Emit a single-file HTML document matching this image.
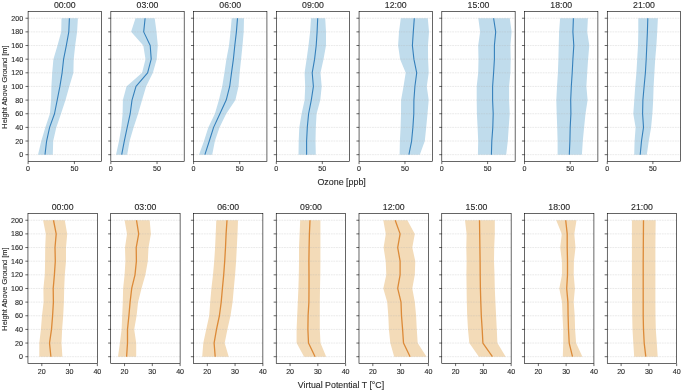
<!DOCTYPE html><html><head><meta charset="utf-8"><style>
html,body{margin:0;padding:0;background:#fff;}
svg{display:block;will-change:transform;filter:blur(0.3px);font-family:"Liberation Sans",sans-serif;}
.grid{stroke:#b0b0b0;stroke-width:0.7;stroke-dasharray:1.8 0.8;stroke-opacity:0.38;}
.sp{fill:none;stroke:#000;stroke-width:0.6;}
.tk{stroke:#000;stroke-width:0.6;}
.ml{stroke-linejoin:round;}
.tl{font-size:7.1px;fill:#2a2a2a;stroke:#2a2a2a;stroke-width:0.12px;}
.tt{font-size:8.4px;fill:#2a2a2a;stroke:#2a2a2a;stroke-width:0.12px;}
.yl{font-size:7px;fill:#2a2a2a;stroke:#2a2a2a;stroke-width:0.1px;}
.xl{font-size:8.4px;fill:#2a2a2a;stroke:#2a2a2a;stroke-width:0.12px;}
</style></head><body><svg width="685" height="392" viewBox="0 0 685 392">
<rect width="685" height="392" fill="#fff"/>
<g><polygon points="38,154.68 41.3,141.03 45.3,127.39 49.9,113.74 51.1,100.1 51.4,86.45 52.2,72.81 53.4,59.16 57.5,45.52 61.2,31.87 61.5,18.23 77.9,18.23 77.1,31.87 75.2,45.52 73.7,59.16 73.4,72.81 69.3,86.45 65.5,100.1 61,113.74 56.3,127.39 53.2,141.03 52.8,154.68" fill="#c0dcec" fill-opacity="1"/><line x1="28.1" x2="101.45" y1="154.68" y2="154.68" class="grid"/><line x1="28.1" x2="101.45" y1="141.03" y2="141.03" class="grid"/><line x1="28.1" x2="101.45" y1="127.39" y2="127.39" class="grid"/><line x1="28.1" x2="101.45" y1="113.74" y2="113.74" class="grid"/><line x1="28.1" x2="101.45" y1="100.1" y2="100.1" class="grid"/><line x1="28.1" x2="101.45" y1="86.45" y2="86.45" class="grid"/><line x1="28.1" x2="101.45" y1="72.81" y2="72.81" class="grid"/><line x1="28.1" x2="101.45" y1="59.16" y2="59.16" class="grid"/><line x1="28.1" x2="101.45" y1="45.52" y2="45.52" class="grid"/><line x1="28.1" x2="101.45" y1="31.87" y2="31.87" class="grid"/><line x1="28.1" x2="101.45" y1="18.23" y2="18.23" class="grid"/><polyline points="45,154.68 46.6,141.03 49.6,127.39 54.5,113.74 57.2,100.1 59.9,86.45 62.1,72.81 63.6,59.16 66.3,45.52 68.8,31.87 69.4,18.23" fill="none" stroke="#3580bb" stroke-width="1.1" class="ml"/><rect x="28.1" y="11.4" width="73.35" height="150.1" class="sp"/><line x1="25.5" x2="28.1" y1="154.68" y2="154.68" class="tk"/><text x="23.1" y="157.18" class="tl" text-anchor="end">0</text><line x1="25.5" x2="28.1" y1="141.03" y2="141.03" class="tk"/><text x="23.1" y="143.53" class="tl" text-anchor="end">20</text><line x1="25.5" x2="28.1" y1="127.39" y2="127.39" class="tk"/><text x="23.1" y="129.89" class="tl" text-anchor="end">40</text><line x1="25.5" x2="28.1" y1="113.74" y2="113.74" class="tk"/><text x="23.1" y="116.24" class="tl" text-anchor="end">60</text><line x1="25.5" x2="28.1" y1="100.1" y2="100.1" class="tk"/><text x="23.1" y="102.6" class="tl" text-anchor="end">80</text><line x1="25.5" x2="28.1" y1="86.45" y2="86.45" class="tk"/><text x="23.1" y="88.95" class="tl" text-anchor="end">100</text><line x1="25.5" x2="28.1" y1="72.81" y2="72.81" class="tk"/><text x="23.1" y="75.31" class="tl" text-anchor="end">120</text><line x1="25.5" x2="28.1" y1="59.16" y2="59.16" class="tk"/><text x="23.1" y="61.66" class="tl" text-anchor="end">140</text><line x1="25.5" x2="28.1" y1="45.52" y2="45.52" class="tk"/><text x="23.1" y="48.02" class="tl" text-anchor="end">160</text><line x1="25.5" x2="28.1" y1="31.87" y2="31.87" class="tk"/><text x="23.1" y="34.37" class="tl" text-anchor="end">180</text><line x1="25.5" x2="28.1" y1="18.23" y2="18.23" class="tk"/><text x="23.1" y="20.73" class="tl" text-anchor="end">200</text><line x1="28.1" x2="28.1" y1="161.5" y2="164.1" class="tk"/><text x="28.1" y="171" class="tl" text-anchor="middle">0</text><line x1="74.4" x2="74.4" y1="161.5" y2="164.1" class="tk"/><text x="74.4" y="171" class="tl" text-anchor="middle">50</text><text transform="translate(64.77,7.6) scale(1.04,1)" class="tt" text-anchor="middle">00:00</text></g>
<g><polygon points="116,154.68 119,141.03 121.3,127.39 122.6,113.74 122.9,100.1 126.5,86.45 142.1,72.81 145.5,59.16 143.3,45.52 131.1,31.87 135.5,18.23 154.7,18.23 156.5,31.87 157.8,45.52 156.7,59.16 152.9,72.81 146.1,86.45 142.1,100.1 138.1,113.74 133.6,127.39 129.6,141.03 127.2,154.68" fill="#c0dcec" fill-opacity="1"/><line x1="110.84" x2="184.19" y1="154.68" y2="154.68" class="grid"/><line x1="110.84" x2="184.19" y1="141.03" y2="141.03" class="grid"/><line x1="110.84" x2="184.19" y1="127.39" y2="127.39" class="grid"/><line x1="110.84" x2="184.19" y1="113.74" y2="113.74" class="grid"/><line x1="110.84" x2="184.19" y1="100.1" y2="100.1" class="grid"/><line x1="110.84" x2="184.19" y1="86.45" y2="86.45" class="grid"/><line x1="110.84" x2="184.19" y1="72.81" y2="72.81" class="grid"/><line x1="110.84" x2="184.19" y1="59.16" y2="59.16" class="grid"/><line x1="110.84" x2="184.19" y1="45.52" y2="45.52" class="grid"/><line x1="110.84" x2="184.19" y1="31.87" y2="31.87" class="grid"/><line x1="110.84" x2="184.19" y1="18.23" y2="18.23" class="grid"/><polyline points="121.7,154.68 124.3,141.03 127.2,127.39 130.2,113.74 132,100.1 136,86.45 147.6,72.81 151.2,59.16 150.2,45.52 143.7,31.87 145.1,18.23" fill="none" stroke="#3580bb" stroke-width="1.1" class="ml"/><rect x="110.84" y="11.4" width="73.35" height="150.1" class="sp"/><line x1="108.24" x2="110.84" y1="154.68" y2="154.68" class="tk"/><line x1="108.24" x2="110.84" y1="141.03" y2="141.03" class="tk"/><line x1="108.24" x2="110.84" y1="127.39" y2="127.39" class="tk"/><line x1="108.24" x2="110.84" y1="113.74" y2="113.74" class="tk"/><line x1="108.24" x2="110.84" y1="100.1" y2="100.1" class="tk"/><line x1="108.24" x2="110.84" y1="86.45" y2="86.45" class="tk"/><line x1="108.24" x2="110.84" y1="72.81" y2="72.81" class="tk"/><line x1="108.24" x2="110.84" y1="59.16" y2="59.16" class="tk"/><line x1="108.24" x2="110.84" y1="45.52" y2="45.52" class="tk"/><line x1="108.24" x2="110.84" y1="31.87" y2="31.87" class="tk"/><line x1="108.24" x2="110.84" y1="18.23" y2="18.23" class="tk"/><line x1="110.84" x2="110.84" y1="161.5" y2="164.1" class="tk"/><text x="110.84" y="171" class="tl" text-anchor="middle">0</text><line x1="157.04" x2="157.04" y1="161.5" y2="164.1" class="tk"/><text x="157.04" y="171" class="tl" text-anchor="middle">50</text><text transform="translate(147.51,7.6) scale(1.04,1)" class="tt" text-anchor="middle">03:00</text></g>
<g><polygon points="199,154.68 204,141.03 208.3,127.39 214.9,113.74 218.9,100.1 222.2,86.45 224.4,72.81 226.4,59.16 229,45.52 230.5,31.87 231.7,18.23 244,18.23 243.7,31.87 242.5,45.52 241.1,59.16 239.7,72.81 238.5,86.45 235.4,100.1 226.2,113.74 219.5,127.39 214.9,141.03 212.2,154.68" fill="#c0dcec" fill-opacity="1"/><line x1="193.58" x2="266.93" y1="154.68" y2="154.68" class="grid"/><line x1="193.58" x2="266.93" y1="141.03" y2="141.03" class="grid"/><line x1="193.58" x2="266.93" y1="127.39" y2="127.39" class="grid"/><line x1="193.58" x2="266.93" y1="113.74" y2="113.74" class="grid"/><line x1="193.58" x2="266.93" y1="100.1" y2="100.1" class="grid"/><line x1="193.58" x2="266.93" y1="86.45" y2="86.45" class="grid"/><line x1="193.58" x2="266.93" y1="72.81" y2="72.81" class="grid"/><line x1="193.58" x2="266.93" y1="59.16" y2="59.16" class="grid"/><line x1="193.58" x2="266.93" y1="45.52" y2="45.52" class="grid"/><line x1="193.58" x2="266.93" y1="31.87" y2="31.87" class="grid"/><line x1="193.58" x2="266.93" y1="18.23" y2="18.23" class="grid"/><polyline points="204.9,154.68 209.3,141.03 213.6,127.39 219.9,113.74 226.2,100.1 229.7,86.45 231.5,72.81 233.4,59.16 234.8,45.52 236.4,31.87 237.5,18.23" fill="none" stroke="#3580bb" stroke-width="1.1" class="ml"/><rect x="193.58" y="11.4" width="73.35" height="150.1" class="sp"/><line x1="190.98" x2="193.58" y1="154.68" y2="154.68" class="tk"/><line x1="190.98" x2="193.58" y1="141.03" y2="141.03" class="tk"/><line x1="190.98" x2="193.58" y1="127.39" y2="127.39" class="tk"/><line x1="190.98" x2="193.58" y1="113.74" y2="113.74" class="tk"/><line x1="190.98" x2="193.58" y1="100.1" y2="100.1" class="tk"/><line x1="190.98" x2="193.58" y1="86.45" y2="86.45" class="tk"/><line x1="190.98" x2="193.58" y1="72.81" y2="72.81" class="tk"/><line x1="190.98" x2="193.58" y1="59.16" y2="59.16" class="tk"/><line x1="190.98" x2="193.58" y1="45.52" y2="45.52" class="tk"/><line x1="190.98" x2="193.58" y1="31.87" y2="31.87" class="tk"/><line x1="190.98" x2="193.58" y1="18.23" y2="18.23" class="tk"/><line x1="193.58" x2="193.58" y1="161.5" y2="164.1" class="tk"/><text x="193.58" y="171" class="tl" text-anchor="middle">0</text><line x1="239.68" x2="239.68" y1="161.5" y2="164.1" class="tk"/><text x="239.68" y="171" class="tl" text-anchor="middle">50</text><text transform="translate(230.25,7.6) scale(1.04,1)" class="tt" text-anchor="middle">06:00</text></g>
<g><polygon points="298.5,154.68 298.7,141.03 299.3,127.39 301.6,113.74 304.6,100.1 305.2,86.45 304.6,72.81 306.6,59.16 308.5,45.52 310.1,31.87 311,18.23 325.2,18.23 326,31.87 326,45.52 323.5,59.16 320.5,72.81 321.7,86.45 320.3,100.1 316.6,113.74 315.8,127.39 315.5,141.03 315.8,154.68" fill="#c0dcec" fill-opacity="1"/><line x1="276.32" x2="349.67" y1="154.68" y2="154.68" class="grid"/><line x1="276.32" x2="349.67" y1="141.03" y2="141.03" class="grid"/><line x1="276.32" x2="349.67" y1="127.39" y2="127.39" class="grid"/><line x1="276.32" x2="349.67" y1="113.74" y2="113.74" class="grid"/><line x1="276.32" x2="349.67" y1="100.1" y2="100.1" class="grid"/><line x1="276.32" x2="349.67" y1="86.45" y2="86.45" class="grid"/><line x1="276.32" x2="349.67" y1="72.81" y2="72.81" class="grid"/><line x1="276.32" x2="349.67" y1="59.16" y2="59.16" class="grid"/><line x1="276.32" x2="349.67" y1="45.52" y2="45.52" class="grid"/><line x1="276.32" x2="349.67" y1="31.87" y2="31.87" class="grid"/><line x1="276.32" x2="349.67" y1="18.23" y2="18.23" class="grid"/><polyline points="306.6,154.68 306.6,141.03 307.3,127.39 308.6,113.74 311.3,100.1 313.4,86.45 312.2,72.81 314.6,59.16 316.2,45.52 317.1,31.87 317.7,18.23" fill="none" stroke="#3580bb" stroke-width="1.1" class="ml"/><rect x="276.32" y="11.4" width="73.35" height="150.1" class="sp"/><line x1="273.72" x2="276.32" y1="154.68" y2="154.68" class="tk"/><line x1="273.72" x2="276.32" y1="141.03" y2="141.03" class="tk"/><line x1="273.72" x2="276.32" y1="127.39" y2="127.39" class="tk"/><line x1="273.72" x2="276.32" y1="113.74" y2="113.74" class="tk"/><line x1="273.72" x2="276.32" y1="100.1" y2="100.1" class="tk"/><line x1="273.72" x2="276.32" y1="86.45" y2="86.45" class="tk"/><line x1="273.72" x2="276.32" y1="72.81" y2="72.81" class="tk"/><line x1="273.72" x2="276.32" y1="59.16" y2="59.16" class="tk"/><line x1="273.72" x2="276.32" y1="45.52" y2="45.52" class="tk"/><line x1="273.72" x2="276.32" y1="31.87" y2="31.87" class="tk"/><line x1="273.72" x2="276.32" y1="18.23" y2="18.23" class="tk"/><line x1="276.32" x2="276.32" y1="161.5" y2="164.1" class="tk"/><text x="276.32" y="171" class="tl" text-anchor="middle">0</text><line x1="322.32" x2="322.32" y1="161.5" y2="164.1" class="tk"/><text x="322.32" y="171" class="tl" text-anchor="middle">50</text><text transform="translate(313,7.6) scale(1.04,1)" class="tt" text-anchor="middle">09:00</text></g>
<g><polygon points="399.6,154.68 399.9,141.03 400.6,127.39 401,113.74 401.1,100.1 403.5,86.45 405.7,72.81 400.1,59.16 398.1,45.52 399,31.87 400.8,18.23 427.8,18.23 429,31.87 428,45.52 428.1,59.16 428.7,72.81 426.8,86.45 428.7,100.1 427.5,113.74 426.2,127.39 424.8,141.03 419.8,154.68" fill="#c0dcec" fill-opacity="1"/><line x1="359.06" x2="432.41" y1="154.68" y2="154.68" class="grid"/><line x1="359.06" x2="432.41" y1="141.03" y2="141.03" class="grid"/><line x1="359.06" x2="432.41" y1="127.39" y2="127.39" class="grid"/><line x1="359.06" x2="432.41" y1="113.74" y2="113.74" class="grid"/><line x1="359.06" x2="432.41" y1="100.1" y2="100.1" class="grid"/><line x1="359.06" x2="432.41" y1="86.45" y2="86.45" class="grid"/><line x1="359.06" x2="432.41" y1="72.81" y2="72.81" class="grid"/><line x1="359.06" x2="432.41" y1="59.16" y2="59.16" class="grid"/><line x1="359.06" x2="432.41" y1="45.52" y2="45.52" class="grid"/><line x1="359.06" x2="432.41" y1="31.87" y2="31.87" class="grid"/><line x1="359.06" x2="432.41" y1="18.23" y2="18.23" class="grid"/><polyline points="408.9,154.68 411.6,141.03 412.9,127.39 413.8,113.74 413.9,100.1 414.9,86.45 416.7,72.81 413.9,59.16 412.4,45.52 413.3,31.87 414.3,18.23" fill="none" stroke="#3580bb" stroke-width="1.1" class="ml"/><rect x="359.06" y="11.4" width="73.35" height="150.1" class="sp"/><line x1="356.46" x2="359.06" y1="154.68" y2="154.68" class="tk"/><line x1="356.46" x2="359.06" y1="141.03" y2="141.03" class="tk"/><line x1="356.46" x2="359.06" y1="127.39" y2="127.39" class="tk"/><line x1="356.46" x2="359.06" y1="113.74" y2="113.74" class="tk"/><line x1="356.46" x2="359.06" y1="100.1" y2="100.1" class="tk"/><line x1="356.46" x2="359.06" y1="86.45" y2="86.45" class="tk"/><line x1="356.46" x2="359.06" y1="72.81" y2="72.81" class="tk"/><line x1="356.46" x2="359.06" y1="59.16" y2="59.16" class="tk"/><line x1="356.46" x2="359.06" y1="45.52" y2="45.52" class="tk"/><line x1="356.46" x2="359.06" y1="31.87" y2="31.87" class="tk"/><line x1="356.46" x2="359.06" y1="18.23" y2="18.23" class="tk"/><line x1="359.06" x2="359.06" y1="161.5" y2="164.1" class="tk"/><text x="359.06" y="171" class="tl" text-anchor="middle">0</text><line x1="404.96" x2="404.96" y1="161.5" y2="164.1" class="tk"/><text x="404.96" y="171" class="tl" text-anchor="middle">50</text><text transform="translate(395.74,7.6) scale(1.04,1)" class="tt" text-anchor="middle">12:00</text></g>
<g><polygon points="477.9,154.68 478.2,141.03 477.6,127.39 476.9,113.74 476.7,100.1 476.7,86.45 478.2,72.81 478.5,59.16 478.2,45.52 480.1,31.87 478.3,18.23 509.8,18.23 511.6,31.87 510.4,45.52 510.7,59.16 510.4,72.81 509.1,86.45 509.1,100.1 509.7,113.74 508.7,127.39 507.8,141.03 506.2,154.68" fill="#c0dcec" fill-opacity="1"/><line x1="441.8" x2="515.15" y1="154.68" y2="154.68" class="grid"/><line x1="441.8" x2="515.15" y1="141.03" y2="141.03" class="grid"/><line x1="441.8" x2="515.15" y1="127.39" y2="127.39" class="grid"/><line x1="441.8" x2="515.15" y1="113.74" y2="113.74" class="grid"/><line x1="441.8" x2="515.15" y1="100.1" y2="100.1" class="grid"/><line x1="441.8" x2="515.15" y1="86.45" y2="86.45" class="grid"/><line x1="441.8" x2="515.15" y1="72.81" y2="72.81" class="grid"/><line x1="441.8" x2="515.15" y1="59.16" y2="59.16" class="grid"/><line x1="441.8" x2="515.15" y1="45.52" y2="45.52" class="grid"/><line x1="441.8" x2="515.15" y1="31.87" y2="31.87" class="grid"/><line x1="441.8" x2="515.15" y1="18.23" y2="18.23" class="grid"/><polyline points="491.4,154.68 491.8,141.03 492.8,127.39 493.2,113.74 492.6,100.1 492.6,86.45 493.6,72.81 494.4,59.16 494.4,45.52 495.7,31.87 493.6,18.23" fill="none" stroke="#3580bb" stroke-width="1.1" class="ml"/><rect x="441.8" y="11.4" width="73.35" height="150.1" class="sp"/><line x1="439.2" x2="441.8" y1="154.68" y2="154.68" class="tk"/><line x1="439.2" x2="441.8" y1="141.03" y2="141.03" class="tk"/><line x1="439.2" x2="441.8" y1="127.39" y2="127.39" class="tk"/><line x1="439.2" x2="441.8" y1="113.74" y2="113.74" class="tk"/><line x1="439.2" x2="441.8" y1="100.1" y2="100.1" class="tk"/><line x1="439.2" x2="441.8" y1="86.45" y2="86.45" class="tk"/><line x1="439.2" x2="441.8" y1="72.81" y2="72.81" class="tk"/><line x1="439.2" x2="441.8" y1="59.16" y2="59.16" class="tk"/><line x1="439.2" x2="441.8" y1="45.52" y2="45.52" class="tk"/><line x1="439.2" x2="441.8" y1="31.87" y2="31.87" class="tk"/><line x1="439.2" x2="441.8" y1="18.23" y2="18.23" class="tk"/><line x1="441.8" x2="441.8" y1="161.5" y2="164.1" class="tk"/><text x="441.8" y="171" class="tl" text-anchor="middle">0</text><line x1="487.6" x2="487.6" y1="161.5" y2="164.1" class="tk"/><text x="487.6" y="171" class="tl" text-anchor="middle">50</text><text transform="translate(478.48,7.6) scale(1.04,1)" class="tt" text-anchor="middle">15:00</text></g>
<g><polygon points="557.6,154.68 557.6,141.03 557.2,127.39 556.7,113.74 556.3,100.1 557,86.45 557.9,72.81 558.4,59.16 558.7,45.52 559.1,31.87 560.1,18.23 587.9,18.23 587.2,31.87 589.3,45.52 588.1,59.16 587.2,72.81 586.4,86.45 587.6,100.1 585.5,113.74 584.1,127.39 582.8,141.03 581.9,154.68" fill="#c0dcec" fill-opacity="1"/><line x1="524.54" x2="597.89" y1="154.68" y2="154.68" class="grid"/><line x1="524.54" x2="597.89" y1="141.03" y2="141.03" class="grid"/><line x1="524.54" x2="597.89" y1="127.39" y2="127.39" class="grid"/><line x1="524.54" x2="597.89" y1="113.74" y2="113.74" class="grid"/><line x1="524.54" x2="597.89" y1="100.1" y2="100.1" class="grid"/><line x1="524.54" x2="597.89" y1="86.45" y2="86.45" class="grid"/><line x1="524.54" x2="597.89" y1="72.81" y2="72.81" class="grid"/><line x1="524.54" x2="597.89" y1="59.16" y2="59.16" class="grid"/><line x1="524.54" x2="597.89" y1="45.52" y2="45.52" class="grid"/><line x1="524.54" x2="597.89" y1="31.87" y2="31.87" class="grid"/><line x1="524.54" x2="597.89" y1="18.23" y2="18.23" class="grid"/><polyline points="569.3,154.68 569.9,141.03 570.2,127.39 570.9,113.74 570.7,100.1 571.3,86.45 572.2,72.81 572.9,59.16 573.8,45.52 572.9,31.87 573.4,18.23" fill="none" stroke="#3580bb" stroke-width="1.1" class="ml"/><rect x="524.54" y="11.4" width="73.35" height="150.1" class="sp"/><line x1="521.94" x2="524.54" y1="154.68" y2="154.68" class="tk"/><line x1="521.94" x2="524.54" y1="141.03" y2="141.03" class="tk"/><line x1="521.94" x2="524.54" y1="127.39" y2="127.39" class="tk"/><line x1="521.94" x2="524.54" y1="113.74" y2="113.74" class="tk"/><line x1="521.94" x2="524.54" y1="100.1" y2="100.1" class="tk"/><line x1="521.94" x2="524.54" y1="86.45" y2="86.45" class="tk"/><line x1="521.94" x2="524.54" y1="72.81" y2="72.81" class="tk"/><line x1="521.94" x2="524.54" y1="59.16" y2="59.16" class="tk"/><line x1="521.94" x2="524.54" y1="45.52" y2="45.52" class="tk"/><line x1="521.94" x2="524.54" y1="31.87" y2="31.87" class="tk"/><line x1="521.94" x2="524.54" y1="18.23" y2="18.23" class="tk"/><line x1="524.54" x2="524.54" y1="161.5" y2="164.1" class="tk"/><text x="524.54" y="171" class="tl" text-anchor="middle">0</text><line x1="570.24" x2="570.24" y1="161.5" y2="164.1" class="tk"/><text x="570.24" y="171" class="tl" text-anchor="middle">50</text><text transform="translate(561.21,7.6) scale(1.04,1)" class="tt" text-anchor="middle">18:00</text></g>
<g><polygon points="634.2,154.68 634.6,141.03 635.6,127.39 633.3,113.74 634.3,100.1 635.2,86.45 636.4,72.81 637.2,59.16 638,45.52 638.3,31.87 638.3,18.23 657.9,18.23 657.2,31.87 656.4,45.52 655.2,59.16 654.4,72.81 653.6,86.45 653.2,100.1 652.4,113.74 651.1,127.39 648.8,141.03 646.8,154.68" fill="#c0dcec" fill-opacity="1"/><line x1="607.28" x2="680.63" y1="154.68" y2="154.68" class="grid"/><line x1="607.28" x2="680.63" y1="141.03" y2="141.03" class="grid"/><line x1="607.28" x2="680.63" y1="127.39" y2="127.39" class="grid"/><line x1="607.28" x2="680.63" y1="113.74" y2="113.74" class="grid"/><line x1="607.28" x2="680.63" y1="100.1" y2="100.1" class="grid"/><line x1="607.28" x2="680.63" y1="86.45" y2="86.45" class="grid"/><line x1="607.28" x2="680.63" y1="72.81" y2="72.81" class="grid"/><line x1="607.28" x2="680.63" y1="59.16" y2="59.16" class="grid"/><line x1="607.28" x2="680.63" y1="45.52" y2="45.52" class="grid"/><line x1="607.28" x2="680.63" y1="31.87" y2="31.87" class="grid"/><line x1="607.28" x2="680.63" y1="18.23" y2="18.23" class="grid"/><polyline points="640.2,154.68 641.5,141.03 643.5,127.39 642.6,113.74 642.9,100.1 644.1,86.45 645.4,72.81 646.2,59.16 646.8,45.52 647.4,31.87 647.8,18.23" fill="none" stroke="#3580bb" stroke-width="1.1" class="ml"/><rect x="607.28" y="11.4" width="73.35" height="150.1" class="sp"/><line x1="604.68" x2="607.28" y1="154.68" y2="154.68" class="tk"/><line x1="604.68" x2="607.28" y1="141.03" y2="141.03" class="tk"/><line x1="604.68" x2="607.28" y1="127.39" y2="127.39" class="tk"/><line x1="604.68" x2="607.28" y1="113.74" y2="113.74" class="tk"/><line x1="604.68" x2="607.28" y1="100.1" y2="100.1" class="tk"/><line x1="604.68" x2="607.28" y1="86.45" y2="86.45" class="tk"/><line x1="604.68" x2="607.28" y1="72.81" y2="72.81" class="tk"/><line x1="604.68" x2="607.28" y1="59.16" y2="59.16" class="tk"/><line x1="604.68" x2="607.28" y1="45.52" y2="45.52" class="tk"/><line x1="604.68" x2="607.28" y1="31.87" y2="31.87" class="tk"/><line x1="604.68" x2="607.28" y1="18.23" y2="18.23" class="tk"/><line x1="607.28" x2="607.28" y1="161.5" y2="164.1" class="tk"/><text x="607.28" y="171" class="tl" text-anchor="middle">0</text><line x1="652.88" x2="652.88" y1="161.5" y2="164.1" class="tk"/><text x="652.88" y="171" class="tl" text-anchor="middle">50</text><text transform="translate(643.95,7.6) scale(1.04,1)" class="tt" text-anchor="middle">21:00</text></g>
<text transform="translate(7,87.05) rotate(-90) scale(1.06,1)" class="yl" text-anchor="middle">Height Above Ground [m]</text>
<g><polygon points="39.3,356.7 39.3,343.05 40.9,329.41 42,315.76 43.6,302.12 43.4,288.47 44.8,274.83 45.1,261.18 45.2,247.54 45.8,233.89 43.1,220.25 64.8,220.25 67.2,233.89 66,247.54 66,261.18 64.8,274.83 64.2,288.47 63.9,302.12 63.2,315.76 62.1,329.41 61.5,343.05 62.4,356.7" fill="#f3dbb8" fill-opacity="1"/><line x1="27.95" x2="97.35" y1="356.7" y2="356.7" class="grid"/><line x1="27.95" x2="97.35" y1="343.05" y2="343.05" class="grid"/><line x1="27.95" x2="97.35" y1="329.41" y2="329.41" class="grid"/><line x1="27.95" x2="97.35" y1="315.76" y2="315.76" class="grid"/><line x1="27.95" x2="97.35" y1="302.12" y2="302.12" class="grid"/><line x1="27.95" x2="97.35" y1="288.47" y2="288.47" class="grid"/><line x1="27.95" x2="97.35" y1="274.83" y2="274.83" class="grid"/><line x1="27.95" x2="97.35" y1="261.18" y2="261.18" class="grid"/><line x1="27.95" x2="97.35" y1="247.54" y2="247.54" class="grid"/><line x1="27.95" x2="97.35" y1="233.89" y2="233.89" class="grid"/><line x1="27.95" x2="97.35" y1="220.25" y2="220.25" class="grid"/><polyline points="50.9,356.7 49.5,343.05 51.5,329.41 52.6,315.76 53.4,302.12 53.2,288.47 54.4,274.83 55.3,261.18 55,247.54 56.2,233.89 53.5,220.25" fill="none" stroke="#dc8a38" stroke-width="1.3" class="ml"/><rect x="27.95" y="213.4" width="69.4" height="150.1" class="sp"/><line x1="25.35" x2="27.95" y1="356.7" y2="356.7" class="tk"/><text x="22.95" y="359.2" class="tl" text-anchor="end">0</text><line x1="25.35" x2="27.95" y1="343.05" y2="343.05" class="tk"/><text x="22.95" y="345.55" class="tl" text-anchor="end">20</text><line x1="25.35" x2="27.95" y1="329.41" y2="329.41" class="tk"/><text x="22.95" y="331.91" class="tl" text-anchor="end">40</text><line x1="25.35" x2="27.95" y1="315.76" y2="315.76" class="tk"/><text x="22.95" y="318.26" class="tl" text-anchor="end">60</text><line x1="25.35" x2="27.95" y1="302.12" y2="302.12" class="tk"/><text x="22.95" y="304.62" class="tl" text-anchor="end">80</text><line x1="25.35" x2="27.95" y1="288.47" y2="288.47" class="tk"/><text x="22.95" y="290.97" class="tl" text-anchor="end">100</text><line x1="25.35" x2="27.95" y1="274.83" y2="274.83" class="tk"/><text x="22.95" y="277.33" class="tl" text-anchor="end">120</text><line x1="25.35" x2="27.95" y1="261.18" y2="261.18" class="tk"/><text x="22.95" y="263.68" class="tl" text-anchor="end">140</text><line x1="25.35" x2="27.95" y1="247.54" y2="247.54" class="tk"/><text x="22.95" y="250.04" class="tl" text-anchor="end">160</text><line x1="25.35" x2="27.95" y1="233.89" y2="233.89" class="tk"/><text x="22.95" y="236.39" class="tl" text-anchor="end">180</text><line x1="25.35" x2="27.95" y1="220.25" y2="220.25" class="tk"/><text x="22.95" y="222.75" class="tl" text-anchor="end">200</text><line x1="41.8" x2="41.8" y1="363.5" y2="366.1" class="tk"/><text x="41.8" y="373.5" class="tl" text-anchor="middle">20</text><line x1="69.55" x2="69.55" y1="363.5" y2="366.1" class="tk"/><text x="69.55" y="373.5" class="tl" text-anchor="middle">30</text><line x1="97.35" x2="97.35" y1="363.5" y2="366.1" class="tk"/><text x="97.35" y="373.5" class="tl" text-anchor="middle">40</text><text transform="translate(62.65,209.7) scale(1.04,1)" class="tt" text-anchor="middle">00:00</text></g>
<g><polygon points="118,356.7 119.9,343.05 121.6,329.41 122.2,315.76 122.8,302.12 123.1,288.47 124.6,274.83 125.4,261.18 125,247.54 127,233.89 124.6,220.25 149.7,220.25 150.9,233.89 148.5,247.54 147.8,261.18 145.4,274.83 141.5,288.47 138.1,302.12 136.6,315.76 134.2,329.41 136.2,343.05 136.2,356.7" fill="#f3dbb8" fill-opacity="1"/><line x1="110.71" x2="180.11" y1="356.7" y2="356.7" class="grid"/><line x1="110.71" x2="180.11" y1="343.05" y2="343.05" class="grid"/><line x1="110.71" x2="180.11" y1="329.41" y2="329.41" class="grid"/><line x1="110.71" x2="180.11" y1="315.76" y2="315.76" class="grid"/><line x1="110.71" x2="180.11" y1="302.12" y2="302.12" class="grid"/><line x1="110.71" x2="180.11" y1="288.47" y2="288.47" class="grid"/><line x1="110.71" x2="180.11" y1="274.83" y2="274.83" class="grid"/><line x1="110.71" x2="180.11" y1="261.18" y2="261.18" class="grid"/><line x1="110.71" x2="180.11" y1="247.54" y2="247.54" class="grid"/><line x1="110.71" x2="180.11" y1="233.89" y2="233.89" class="grid"/><line x1="110.71" x2="180.11" y1="220.25" y2="220.25" class="grid"/><polyline points="126.6,356.7 127.5,343.05 127.5,329.41 128.9,315.76 130.1,302.12 131.7,288.47 135,274.83 136.4,261.18 136.2,247.54 138.7,233.89 136.5,220.25" fill="none" stroke="#dc8a38" stroke-width="1.3" class="ml"/><rect x="110.71" y="213.4" width="69.4" height="150.1" class="sp"/><line x1="108.11" x2="110.71" y1="356.7" y2="356.7" class="tk"/><line x1="108.11" x2="110.71" y1="343.05" y2="343.05" class="tk"/><line x1="108.11" x2="110.71" y1="329.41" y2="329.41" class="tk"/><line x1="108.11" x2="110.71" y1="315.76" y2="315.76" class="tk"/><line x1="108.11" x2="110.71" y1="302.12" y2="302.12" class="tk"/><line x1="108.11" x2="110.71" y1="288.47" y2="288.47" class="tk"/><line x1="108.11" x2="110.71" y1="274.83" y2="274.83" class="tk"/><line x1="108.11" x2="110.71" y1="261.18" y2="261.18" class="tk"/><line x1="108.11" x2="110.71" y1="247.54" y2="247.54" class="tk"/><line x1="108.11" x2="110.71" y1="233.89" y2="233.89" class="tk"/><line x1="108.11" x2="110.71" y1="220.25" y2="220.25" class="tk"/><line x1="124.56" x2="124.56" y1="363.5" y2="366.1" class="tk"/><text x="124.56" y="373.5" class="tl" text-anchor="middle">20</text><line x1="152.31" x2="152.31" y1="363.5" y2="366.1" class="tk"/><text x="152.31" y="373.5" class="tl" text-anchor="middle">30</text><line x1="180.11" x2="180.11" y1="363.5" y2="366.1" class="tk"/><text x="180.11" y="373.5" class="tl" text-anchor="middle">40</text><text transform="translate(145.41,209.7) scale(1.04,1)" class="tt" text-anchor="middle">03:00</text></g>
<g><polygon points="202.2,356.7 203.3,343.05 206.2,329.41 209.2,315.76 210.2,302.12 211.4,288.47 213,274.83 214.2,261.18 215.1,247.54 215.7,233.89 216.3,220.25 238,220.25 237.5,233.89 236.8,247.54 236.1,261.18 235.1,274.83 233.8,288.47 232.6,302.12 230.5,315.76 227.4,329.41 224.7,343.05 228.7,356.7" fill="#f3dbb8" fill-opacity="1"/><line x1="193.47" x2="262.87" y1="356.7" y2="356.7" class="grid"/><line x1="193.47" x2="262.87" y1="343.05" y2="343.05" class="grid"/><line x1="193.47" x2="262.87" y1="329.41" y2="329.41" class="grid"/><line x1="193.47" x2="262.87" y1="315.76" y2="315.76" class="grid"/><line x1="193.47" x2="262.87" y1="302.12" y2="302.12" class="grid"/><line x1="193.47" x2="262.87" y1="288.47" y2="288.47" class="grid"/><line x1="193.47" x2="262.87" y1="274.83" y2="274.83" class="grid"/><line x1="193.47" x2="262.87" y1="261.18" y2="261.18" class="grid"/><line x1="193.47" x2="262.87" y1="247.54" y2="247.54" class="grid"/><line x1="193.47" x2="262.87" y1="233.89" y2="233.89" class="grid"/><line x1="193.47" x2="262.87" y1="220.25" y2="220.25" class="grid"/><polyline points="215.2,356.7 214.1,343.05 216.5,329.41 219.4,315.76 221.2,302.12 222.4,288.47 223.7,274.83 224.7,261.18 225.5,247.54 226.1,233.89 227,220.25" fill="none" stroke="#dc8a38" stroke-width="1.3" class="ml"/><rect x="193.47" y="213.4" width="69.4" height="150.1" class="sp"/><line x1="190.87" x2="193.47" y1="356.7" y2="356.7" class="tk"/><line x1="190.87" x2="193.47" y1="343.05" y2="343.05" class="tk"/><line x1="190.87" x2="193.47" y1="329.41" y2="329.41" class="tk"/><line x1="190.87" x2="193.47" y1="315.76" y2="315.76" class="tk"/><line x1="190.87" x2="193.47" y1="302.12" y2="302.12" class="tk"/><line x1="190.87" x2="193.47" y1="288.47" y2="288.47" class="tk"/><line x1="190.87" x2="193.47" y1="274.83" y2="274.83" class="tk"/><line x1="190.87" x2="193.47" y1="261.18" y2="261.18" class="tk"/><line x1="190.87" x2="193.47" y1="247.54" y2="247.54" class="tk"/><line x1="190.87" x2="193.47" y1="233.89" y2="233.89" class="tk"/><line x1="190.87" x2="193.47" y1="220.25" y2="220.25" class="tk"/><line x1="207.32" x2="207.32" y1="363.5" y2="366.1" class="tk"/><text x="207.32" y="373.5" class="tl" text-anchor="middle">20</text><line x1="235.07" x2="235.07" y1="363.5" y2="366.1" class="tk"/><text x="235.07" y="373.5" class="tl" text-anchor="middle">30</text><line x1="262.87" x2="262.87" y1="363.5" y2="366.1" class="tk"/><text x="262.87" y="373.5" class="tl" text-anchor="middle">40</text><text transform="translate(228.17,209.7) scale(1.04,1)" class="tt" text-anchor="middle">06:00</text></g>
<g><polygon points="304.1,356.7 296.6,343.05 296.6,329.41 297.2,315.76 297.8,302.12 298.4,288.47 298.8,274.83 299,261.18 299,247.54 299.6,233.89 300.2,220.25 320.4,220.25 320.4,233.89 320.4,247.54 320.4,261.18 320.3,274.83 320,288.47 319.8,302.12 319.8,315.76 319.8,329.41 320.5,343.05 326.2,356.7" fill="#f3dbb8" fill-opacity="1"/><line x1="276.23" x2="345.63" y1="356.7" y2="356.7" class="grid"/><line x1="276.23" x2="345.63" y1="343.05" y2="343.05" class="grid"/><line x1="276.23" x2="345.63" y1="329.41" y2="329.41" class="grid"/><line x1="276.23" x2="345.63" y1="315.76" y2="315.76" class="grid"/><line x1="276.23" x2="345.63" y1="302.12" y2="302.12" class="grid"/><line x1="276.23" x2="345.63" y1="288.47" y2="288.47" class="grid"/><line x1="276.23" x2="345.63" y1="274.83" y2="274.83" class="grid"/><line x1="276.23" x2="345.63" y1="261.18" y2="261.18" class="grid"/><line x1="276.23" x2="345.63" y1="247.54" y2="247.54" class="grid"/><line x1="276.23" x2="345.63" y1="233.89" y2="233.89" class="grid"/><line x1="276.23" x2="345.63" y1="220.25" y2="220.25" class="grid"/><polyline points="315.1,356.7 308.5,343.05 307.9,329.41 308.1,315.76 308.9,302.12 309,288.47 309,274.83 308.9,261.18 309.1,247.54 309.4,233.89 310,220.25" fill="none" stroke="#dc8a38" stroke-width="1.3" class="ml"/><rect x="276.23" y="213.4" width="69.4" height="150.1" class="sp"/><line x1="273.63" x2="276.23" y1="356.7" y2="356.7" class="tk"/><line x1="273.63" x2="276.23" y1="343.05" y2="343.05" class="tk"/><line x1="273.63" x2="276.23" y1="329.41" y2="329.41" class="tk"/><line x1="273.63" x2="276.23" y1="315.76" y2="315.76" class="tk"/><line x1="273.63" x2="276.23" y1="302.12" y2="302.12" class="tk"/><line x1="273.63" x2="276.23" y1="288.47" y2="288.47" class="tk"/><line x1="273.63" x2="276.23" y1="274.83" y2="274.83" class="tk"/><line x1="273.63" x2="276.23" y1="261.18" y2="261.18" class="tk"/><line x1="273.63" x2="276.23" y1="247.54" y2="247.54" class="tk"/><line x1="273.63" x2="276.23" y1="233.89" y2="233.89" class="tk"/><line x1="273.63" x2="276.23" y1="220.25" y2="220.25" class="tk"/><line x1="290.08" x2="290.08" y1="363.5" y2="366.1" class="tk"/><text x="290.08" y="373.5" class="tl" text-anchor="middle">20</text><line x1="317.83" x2="317.83" y1="363.5" y2="366.1" class="tk"/><text x="317.83" y="373.5" class="tl" text-anchor="middle">30</text><line x1="345.63" x2="345.63" y1="363.5" y2="366.1" class="tk"/><text x="345.63" y="373.5" class="tl" text-anchor="middle">40</text><text transform="translate(310.93,209.7) scale(1.04,1)" class="tt" text-anchor="middle">09:00</text></g>
<g><polygon points="394.2,356.7 390.3,343.05 388.9,329.41 388.3,315.76 387.2,302.12 383.3,288.47 386.3,274.83 385.7,261.18 383.6,247.54 385.8,233.89 383.3,220.25 407.4,220.25 414.8,233.89 412.3,247.54 415.3,261.18 414.8,274.83 412.3,288.47 414.8,302.12 416.1,315.76 416.8,329.41 417.7,343.05 426.5,356.7" fill="#f3dbb8" fill-opacity="1"/><line x1="358.99" x2="428.39" y1="356.7" y2="356.7" class="grid"/><line x1="358.99" x2="428.39" y1="343.05" y2="343.05" class="grid"/><line x1="358.99" x2="428.39" y1="329.41" y2="329.41" class="grid"/><line x1="358.99" x2="428.39" y1="315.76" y2="315.76" class="grid"/><line x1="358.99" x2="428.39" y1="302.12" y2="302.12" class="grid"/><line x1="358.99" x2="428.39" y1="288.47" y2="288.47" class="grid"/><line x1="358.99" x2="428.39" y1="274.83" y2="274.83" class="grid"/><line x1="358.99" x2="428.39" y1="261.18" y2="261.18" class="grid"/><line x1="358.99" x2="428.39" y1="247.54" y2="247.54" class="grid"/><line x1="358.99" x2="428.39" y1="233.89" y2="233.89" class="grid"/><line x1="358.99" x2="428.39" y1="220.25" y2="220.25" class="grid"/><polyline points="410.1,356.7 403.5,343.05 402.6,329.41 401.5,315.76 401,302.12 397.7,288.47 400.1,274.83 400.1,261.18 397.7,247.54 400.1,233.89 395.2,220.25" fill="none" stroke="#dc8a38" stroke-width="1.3" class="ml"/><rect x="358.99" y="213.4" width="69.4" height="150.1" class="sp"/><line x1="356.39" x2="358.99" y1="356.7" y2="356.7" class="tk"/><line x1="356.39" x2="358.99" y1="343.05" y2="343.05" class="tk"/><line x1="356.39" x2="358.99" y1="329.41" y2="329.41" class="tk"/><line x1="356.39" x2="358.99" y1="315.76" y2="315.76" class="tk"/><line x1="356.39" x2="358.99" y1="302.12" y2="302.12" class="tk"/><line x1="356.39" x2="358.99" y1="288.47" y2="288.47" class="tk"/><line x1="356.39" x2="358.99" y1="274.83" y2="274.83" class="tk"/><line x1="356.39" x2="358.99" y1="261.18" y2="261.18" class="tk"/><line x1="356.39" x2="358.99" y1="247.54" y2="247.54" class="tk"/><line x1="356.39" x2="358.99" y1="233.89" y2="233.89" class="tk"/><line x1="356.39" x2="358.99" y1="220.25" y2="220.25" class="tk"/><line x1="372.84" x2="372.84" y1="363.5" y2="366.1" class="tk"/><text x="372.84" y="373.5" class="tl" text-anchor="middle">20</text><line x1="400.59" x2="400.59" y1="363.5" y2="366.1" class="tk"/><text x="400.59" y="373.5" class="tl" text-anchor="middle">30</text><line x1="428.39" x2="428.39" y1="363.5" y2="366.1" class="tk"/><text x="428.39" y="373.5" class="tl" text-anchor="middle">40</text><text transform="translate(393.69,209.7) scale(1.04,1)" class="tt" text-anchor="middle">12:00</text></g>
<g><polygon points="478.9,356.7 469.3,343.05 468,329.41 467.2,315.76 466.8,302.12 466.6,288.47 466.4,274.83 466.6,261.18 466.3,247.54 466.6,233.89 465,220.25 494.8,220.25 494.8,233.89 494.2,247.54 494,261.18 494.5,274.83 494.8,288.47 495.4,302.12 496.1,315.76 496.8,329.41 497.4,343.05 505.7,356.7" fill="#f3dbb8" fill-opacity="1"/><line x1="441.75" x2="511.15" y1="356.7" y2="356.7" class="grid"/><line x1="441.75" x2="511.15" y1="343.05" y2="343.05" class="grid"/><line x1="441.75" x2="511.15" y1="329.41" y2="329.41" class="grid"/><line x1="441.75" x2="511.15" y1="315.76" y2="315.76" class="grid"/><line x1="441.75" x2="511.15" y1="302.12" y2="302.12" class="grid"/><line x1="441.75" x2="511.15" y1="288.47" y2="288.47" class="grid"/><line x1="441.75" x2="511.15" y1="274.83" y2="274.83" class="grid"/><line x1="441.75" x2="511.15" y1="261.18" y2="261.18" class="grid"/><line x1="441.75" x2="511.15" y1="247.54" y2="247.54" class="grid"/><line x1="441.75" x2="511.15" y1="233.89" y2="233.89" class="grid"/><line x1="441.75" x2="511.15" y1="220.25" y2="220.25" class="grid"/><polyline points="492.4,356.7 482.9,343.05 482.2,329.41 481.3,315.76 480.8,302.12 480.4,288.47 480.2,274.83 480.1,261.18 479.9,247.54 479.7,233.89 479.5,220.25" fill="none" stroke="#dc8a38" stroke-width="1.3" class="ml"/><rect x="441.75" y="213.4" width="69.4" height="150.1" class="sp"/><line x1="439.15" x2="441.75" y1="356.7" y2="356.7" class="tk"/><line x1="439.15" x2="441.75" y1="343.05" y2="343.05" class="tk"/><line x1="439.15" x2="441.75" y1="329.41" y2="329.41" class="tk"/><line x1="439.15" x2="441.75" y1="315.76" y2="315.76" class="tk"/><line x1="439.15" x2="441.75" y1="302.12" y2="302.12" class="tk"/><line x1="439.15" x2="441.75" y1="288.47" y2="288.47" class="tk"/><line x1="439.15" x2="441.75" y1="274.83" y2="274.83" class="tk"/><line x1="439.15" x2="441.75" y1="261.18" y2="261.18" class="tk"/><line x1="439.15" x2="441.75" y1="247.54" y2="247.54" class="tk"/><line x1="439.15" x2="441.75" y1="233.89" y2="233.89" class="tk"/><line x1="439.15" x2="441.75" y1="220.25" y2="220.25" class="tk"/><line x1="455.6" x2="455.6" y1="363.5" y2="366.1" class="tk"/><text x="455.6" y="373.5" class="tl" text-anchor="middle">20</text><line x1="483.35" x2="483.35" y1="363.5" y2="366.1" class="tk"/><text x="483.35" y="373.5" class="tl" text-anchor="middle">30</text><line x1="511.15" x2="511.15" y1="363.5" y2="366.1" class="tk"/><text x="511.15" y="373.5" class="tl" text-anchor="middle">40</text><text transform="translate(476.45,209.7) scale(1.04,1)" class="tt" text-anchor="middle">15:00</text></g>
<g><polygon points="562.8,356.7 563.2,343.05 563.2,329.41 562.5,315.76 562,302.12 559.3,288.47 562,274.83 561.9,261.18 560.2,247.54 561.8,233.89 556.2,220.25 576.5,220.25 574.3,233.89 575.5,247.54 573.9,261.18 573.7,274.83 574.9,288.47 573.7,302.12 574.7,315.76 575.1,329.41 576.1,343.05 582.4,356.7" fill="#f3dbb8" fill-opacity="1"/><line x1="524.51" x2="593.91" y1="356.7" y2="356.7" class="grid"/><line x1="524.51" x2="593.91" y1="343.05" y2="343.05" class="grid"/><line x1="524.51" x2="593.91" y1="329.41" y2="329.41" class="grid"/><line x1="524.51" x2="593.91" y1="315.76" y2="315.76" class="grid"/><line x1="524.51" x2="593.91" y1="302.12" y2="302.12" class="grid"/><line x1="524.51" x2="593.91" y1="288.47" y2="288.47" class="grid"/><line x1="524.51" x2="593.91" y1="274.83" y2="274.83" class="grid"/><line x1="524.51" x2="593.91" y1="261.18" y2="261.18" class="grid"/><line x1="524.51" x2="593.91" y1="247.54" y2="247.54" class="grid"/><line x1="524.51" x2="593.91" y1="233.89" y2="233.89" class="grid"/><line x1="524.51" x2="593.91" y1="220.25" y2="220.25" class="grid"/><polyline points="572.5,356.7 569.2,343.05 568.5,329.41 568.1,315.76 567.9,302.12 566.7,288.47 567.5,274.83 567.5,261.18 567.2,247.54 567.2,233.89 565.7,220.25" fill="none" stroke="#dc8a38" stroke-width="1.3" class="ml"/><rect x="524.51" y="213.4" width="69.4" height="150.1" class="sp"/><line x1="521.91" x2="524.51" y1="356.7" y2="356.7" class="tk"/><line x1="521.91" x2="524.51" y1="343.05" y2="343.05" class="tk"/><line x1="521.91" x2="524.51" y1="329.41" y2="329.41" class="tk"/><line x1="521.91" x2="524.51" y1="315.76" y2="315.76" class="tk"/><line x1="521.91" x2="524.51" y1="302.12" y2="302.12" class="tk"/><line x1="521.91" x2="524.51" y1="288.47" y2="288.47" class="tk"/><line x1="521.91" x2="524.51" y1="274.83" y2="274.83" class="tk"/><line x1="521.91" x2="524.51" y1="261.18" y2="261.18" class="tk"/><line x1="521.91" x2="524.51" y1="247.54" y2="247.54" class="tk"/><line x1="521.91" x2="524.51" y1="233.89" y2="233.89" class="tk"/><line x1="521.91" x2="524.51" y1="220.25" y2="220.25" class="tk"/><line x1="538.36" x2="538.36" y1="363.5" y2="366.1" class="tk"/><text x="538.36" y="373.5" class="tl" text-anchor="middle">20</text><line x1="566.11" x2="566.11" y1="363.5" y2="366.1" class="tk"/><text x="566.11" y="373.5" class="tl" text-anchor="middle">30</text><line x1="593.91" x2="593.91" y1="363.5" y2="366.1" class="tk"/><text x="593.91" y="373.5" class="tl" text-anchor="middle">40</text><text transform="translate(559.21,209.7) scale(1.04,1)" class="tt" text-anchor="middle">18:00</text></g>
<g><polygon points="634.2,356.7 633.3,343.05 632.5,329.41 632.2,315.76 632.1,302.12 632,288.47 631.9,274.83 631.9,261.18 631.9,247.54 631.9,233.89 631.9,220.25 655.7,220.25 655.5,233.89 655.4,247.54 655.4,261.18 655.4,274.83 655.4,288.47 655.4,302.12 655.5,315.76 655.8,329.41 656.8,343.05 657.7,356.7" fill="#f3dbb8" fill-opacity="1"/><line x1="607.27" x2="676.67" y1="356.7" y2="356.7" class="grid"/><line x1="607.27" x2="676.67" y1="343.05" y2="343.05" class="grid"/><line x1="607.27" x2="676.67" y1="329.41" y2="329.41" class="grid"/><line x1="607.27" x2="676.67" y1="315.76" y2="315.76" class="grid"/><line x1="607.27" x2="676.67" y1="302.12" y2="302.12" class="grid"/><line x1="607.27" x2="676.67" y1="288.47" y2="288.47" class="grid"/><line x1="607.27" x2="676.67" y1="274.83" y2="274.83" class="grid"/><line x1="607.27" x2="676.67" y1="261.18" y2="261.18" class="grid"/><line x1="607.27" x2="676.67" y1="247.54" y2="247.54" class="grid"/><line x1="607.27" x2="676.67" y1="233.89" y2="233.89" class="grid"/><line x1="607.27" x2="676.67" y1="220.25" y2="220.25" class="grid"/><polyline points="645.8,356.7 644.2,343.05 643.5,329.41 643.2,315.76 643.2,302.12 643.2,288.47 643.2,274.83 643.2,261.18 643.3,247.54 643.4,233.89 643.5,220.25" fill="none" stroke="#dc8a38" stroke-width="1.3" class="ml"/><rect x="607.27" y="213.4" width="69.4" height="150.1" class="sp"/><line x1="604.67" x2="607.27" y1="356.7" y2="356.7" class="tk"/><line x1="604.67" x2="607.27" y1="343.05" y2="343.05" class="tk"/><line x1="604.67" x2="607.27" y1="329.41" y2="329.41" class="tk"/><line x1="604.67" x2="607.27" y1="315.76" y2="315.76" class="tk"/><line x1="604.67" x2="607.27" y1="302.12" y2="302.12" class="tk"/><line x1="604.67" x2="607.27" y1="288.47" y2="288.47" class="tk"/><line x1="604.67" x2="607.27" y1="274.83" y2="274.83" class="tk"/><line x1="604.67" x2="607.27" y1="261.18" y2="261.18" class="tk"/><line x1="604.67" x2="607.27" y1="247.54" y2="247.54" class="tk"/><line x1="604.67" x2="607.27" y1="233.89" y2="233.89" class="tk"/><line x1="604.67" x2="607.27" y1="220.25" y2="220.25" class="tk"/><line x1="621.12" x2="621.12" y1="363.5" y2="366.1" class="tk"/><text x="621.12" y="373.5" class="tl" text-anchor="middle">20</text><line x1="648.87" x2="648.87" y1="363.5" y2="366.1" class="tk"/><text x="648.87" y="373.5" class="tl" text-anchor="middle">30</text><line x1="676.67" x2="676.67" y1="363.5" y2="366.1" class="tk"/><text x="676.67" y="373.5" class="tl" text-anchor="middle">40</text><text transform="translate(641.97,209.7) scale(1.04,1)" class="tt" text-anchor="middle">21:00</text></g>
<text transform="translate(7,289.05) rotate(-90) scale(1.06,1)" class="yl" text-anchor="middle">Height Above Ground [m]</text>
<text transform="translate(341.6,184.6) scale(1.06,1)" class="xl" text-anchor="middle">Ozone [ppb]</text>
<text transform="translate(341,387.8) scale(1.05,1)" class="xl" text-anchor="middle">Virtual Potential T [°C]</text>
</svg></body></html>
